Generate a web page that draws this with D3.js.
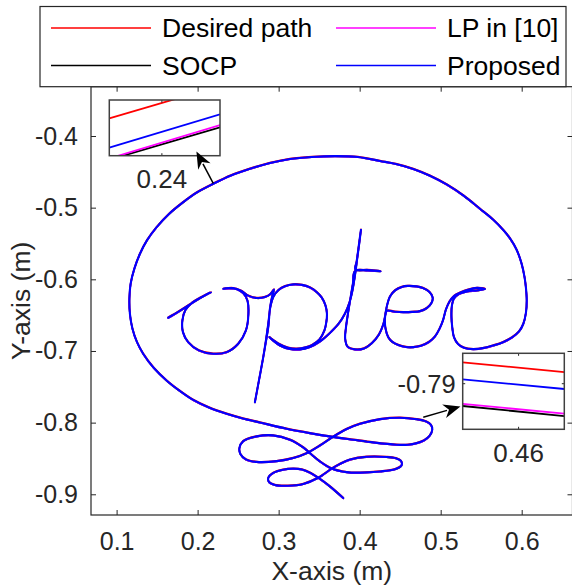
<!DOCTYPE html>
<html><head><meta charset="utf-8">
<script src="https://cdn.jsdelivr.net/npm/d3@7"></script>
<style>
body{margin:0;background:#fff}
svg{display:block;font-family:"Liberation Sans",Arial,Helvetica,sans-serif}
</style>
</head><body><svg id="chart" width="572" height="588"></svg>
<script>
// Reference trajectory: cursive "opter" enclosed by a loop with flourishes (metres)
const pathX = [
0.1637,0.1769,0.1905,0.2028,0.2164,0.2028,0.1930,0.1849,0.1812,0.1819,
0.1884,0.2016,0.2193,0.2358,0.2501,0.2596,0.2627,0.2615,0.2563,0.2481,
0.2386,0.2316,0.2436,0.2541,0.2625,0.2728,0.2831,0.2899,0.2942,0.2917,
0.2893,0.2872,0.2841,0.2810,0.2757,0.2707,0.2757,0.2810,0.2843,0.2874,
0.2899,0.2936,0.2998,0.3078,0.3180,0.3288,0.3386,0.3469,0.3531,0.3578,
0.3596,0.3588,0.3565,0.3504,0.3411,0.3346,0.3222,0.3115,0.3004,0.2884,
0.3016,0.3140,0.3263,0.3386,0.3510,0.3633,0.3738,0.3819,0.3874,0.3911,
0.3942,0.3970,0.3995,0.4016,0.3988,0.3963,0.3948,0.4102,0.4259,0.4102,
0.3942,0.3917,0.3886,0.3856,0.3831,0.3821,0.3849,0.3942,0.4053,0.4152,
0.4238,0.4291,0.4319,0.4337,0.4436,0.4538,0.4646,0.4744,0.4831,0.4889,
0.4901,0.4862,0.4781,0.4704,0.4596,0.4519,0.4436,0.4374,0.4333,0.4312,
0.4319,0.4353,0.4405,0.4477,0.4572,0.4662,0.4757,0.4856,0.4930,0.4985,
0.5028,0.5065,0.5109,0.5164,0.5238,0.5337,0.5448,0.5547,0.5448,0.5325,
0.5226,0.5164,0.5137,0.5133,0.5143,0.5164,0.5214,0.5288,0.5402,0.5535,
0.5649,0.5769,0.5880,0.5967,0.6020,0.6053,0.6062,0.6053,0.6035,0.5998,
0.5936,0.5856,0.5773,0.5646,0.5485,0.5288,0.5074,0.4868,0.4662,0.4448,
0.4251,0.3979,0.3695,0.3411,0.3140,0.2893,0.2646,0.2411,0.2193,0.1991,
0.1822,0.1646,0.1494,0.1374,0.1288,0.1220,0.1173,0.1158,0.1164,0.1195,
0.1251,0.1328,0.1460,0.1617,0.1781,0.1946,0.2140,0.2358,0.2559,0.2769,
0.3099,0.3386,0.3674,0.3921,0.4168,0.4457,0.4596,0.4704,0.4794,0.4862,
0.4896,0.4880,0.4819,0.4704,0.4498,0.4251,0.4004,0.3840,0.3674,0.3510,
0.3346,0.3180,0.2975,0.2728,0.2596,0.2528,0.2516,0.2563,0.2728,0.2933,
0.3140,0.3304,0.3399,0.3510,0.3654,0.3840,0.4004,0.4251,0.4436,0.4516,
0.4510,0.4448,0.4333,0.4086,0.3880,0.3757,0.3654,0.3489,0.3304,0.3115,
0.2954,0.2880,0.2874,0.2933,0.3053,0.3177,0.3288,0.3393,0.3489,0.3633,
0.3798];
const pathY = [
-0.6530,-0.6442,-0.6344,-0.6256,-0.6173,-0.6254,-0.6323,-0.6421,-0.6568,-0.6731,
-0.6871,-0.6986,-0.7032,-0.7010,-0.6893,-0.6707,-0.6474,-0.6289,-0.6187,-0.6128,
-0.6117,-0.6125,-0.6117,-0.6156,-0.6222,-0.6254,-0.6240,-0.6198,-0.6135,-0.6247,
-0.6400,-0.6661,-0.6875,-0.7080,-0.7405,-0.7708,-0.7405,-0.7080,-0.6847,-0.6596,
-0.6372,-0.6233,-0.6142,-0.6090,-0.6065,-0.6072,-0.6107,-0.6170,-0.6247,-0.6358,
-0.6474,-0.6596,-0.6707,-0.6833,-0.6912,-0.6940,-0.6963,-0.6949,-0.6896,-0.6801,
-0.6917,-0.6966,-0.6972,-0.6938,-0.6861,-0.6742,-0.6617,-0.6470,-0.6317,-0.6149,
-0.5940,-0.5703,-0.5493,-0.5302,-0.5535,-0.5744,-0.5856,-0.5863,-0.5880,-0.5870,
-0.5877,-0.6051,-0.6261,-0.6470,-0.6665,-0.6819,-0.6930,-0.6972,-0.6958,-0.6882,
-0.6763,-0.6624,-0.6484,-0.6432,-0.6446,-0.6452,-0.6449,-0.6438,-0.6393,-0.6317,
-0.6247,-0.6170,-0.6114,-0.6093,-0.6086,-0.6100,-0.6149,-0.6233,-0.6382,-0.6540,
-0.6679,-0.6801,-0.6868,-0.6910,-0.6938,-0.6940,-0.6921,-0.6868,-0.6791,-0.6686,
-0.6568,-0.6414,-0.6303,-0.6226,-0.6181,-0.6139,-0.6114,-0.6128,-0.6149,-0.6163,
-0.6198,-0.6261,-0.6372,-0.6522,-0.6665,-0.6801,-0.6896,-0.6949,-0.6968,-0.6951,
-0.6917,-0.6871,-0.6805,-0.6721,-0.6614,-0.6456,-0.6289,-0.6121,-0.5963,-0.5772,
-0.5577,-0.5423,-0.5305,-0.5158,-0.5009,-0.4830,-0.4670,-0.4548,-0.4453,-0.4384,
-0.4342,-0.4286,-0.4275,-0.4286,-0.4314,-0.4370,-0.4451,-0.4544,-0.4660,-0.4781,
-0.4917,-0.5082,-0.5266,-0.5451,-0.5637,-0.5842,-0.6056,-0.6261,-0.6474,-0.6679,
-0.6868,-0.7032,-0.7231,-0.7405,-0.7551,-0.7677,-0.7782,-0.7870,-0.7935,-0.7991,
-0.8079,-0.8140,-0.8193,-0.8232,-0.8270,-0.8302,-0.8302,-0.8280,-0.8242,-0.8180,
-0.8093,-0.8026,-0.7977,-0.7946,-0.7925,-0.7945,-0.8009,-0.8082,-0.8189,-0.8312,
-0.8419,-0.8487,-0.8531,-0.8542,-0.8507,-0.8431,-0.8347,-0.8252,-0.8186,-0.8172,
-0.8232,-0.8340,-0.8431,-0.8535,-0.8633,-0.8685,-0.8692,-0.8675,-0.8643,-0.8591,
-0.8528,-0.8491,-0.8473,-0.8470,-0.8510,-0.8570,-0.8637,-0.8763,-0.8849,-0.8874,
-0.8863,-0.8821,-0.8759,-0.8696,-0.8651,-0.8636,-0.8647,-0.8696,-0.8763,-0.8884,
-0.9047];

// Series (drawn in this order) and their vertical tracking deviation from the reference
const seriesNames  = ["Desired path", "SOCP", "LP in [10]", "Proposed"];
const seriesColors = ["#ff0000", "#000000", "#ff00ff", "#0000ff"];
const trackingOffsetY = [0, -0.0011, -0.0010, -0.0006];

// Legend order (two columns, filled row by row)
const legendOrder = [0, 2, 1, 3];

// Axes
const xLim = [0.0684, 0.6627];
const yLim = [-0.9289, -0.3312];
const xTicks = [0.1, 0.2, 0.3, 0.4, 0.5, 0.6];
const yTicks = [-0.9, -0.8, -0.7, -0.6, -0.5, -0.4];

// Zoomed view near x = 0.24 (segment end points at the view edges)
const inset1XLim = [0.2381, 0.2421];
const inset1YLim = [-0.4575, -0.4545];
const inset1XTicks = [0.24];
const inset1SegX = [0.2381, 0.2421];
const inset1Desired  = [-0.45549, -0.45374];
const inset1SOCP     = [-0.45772, -0.45597];
const inset1LP       = [-0.45765, -0.45585];
const inset1Proposed = [-0.45707, -0.45527];

// Zoomed view near x = 0.46
const inset2XLim = [0.4578, 0.4618];
const inset2YLim = [-0.7918, -0.7888];
const inset2XTicks = [0.46];
const inset2YTicks = [-0.79];
const inset2SegX = [0.4578, 0.4618];
const inset2Desired  = [-0.78916, -0.78954];
const inset2SOCP     = [-0.79088, -0.79128];
const inset2LP       = [-0.79080, -0.79118];
const inset2Proposed = [-0.78983, -0.79021];

// Arrow annotations: [tailX, tailY, headX, headY] in data units
const arrow1 = [0.2193, -0.4660, 0.1985, -0.4216];
const arrow2 = [0.4785, -0.7925, 0.5244, -0.7775];

// ---------------------------------------------------------------
const axisColor = "#262626";
const plot = {left: 91, right: 572.5, top: 86.7, bottom: 515};
const fmt = p => v => d3.format(p)(v).replace("\u2212", "-");

const svg = d3.select("#chart");
const x = d3.scaleLinear().domain(xLim).range([plot.left, plot.right]);
const y = d3.scaleLinear().domain(yLim).range([plot.bottom, plot.top]);

svg.append("defs").append("clipPath").attr("id", "plotClip")
  .append("rect").attr("x", plot.left).attr("y", plot.top)
  .attr("width", plot.right - plot.left).attr("height", plot.bottom - plot.top);

const pts = pathX.map((v, i) => [v, pathY[i]]);
const line = d3.line().x(d => x(d[0])).y(d => y(d[1])).curve(d3.curveCatmullRom.alpha(0.5));

const gLines = svg.append("g").attr("clip-path", "url(#plotClip)");
seriesNames.forEach((name, s) => {
  const last = s === seriesNames.length - 1;
  gLines.append("path")
    .datum(pts.map(p => [p[0], p[1] + trackingOffsetY[s]]))
    .attr("d", line)
    .attr("fill", "none")
    .attr("stroke", seriesColors[s])
    .attr("stroke-width", last ? 2.1 : 1.6)
    .attr("stroke-linejoin", "round")
    .attr("stroke-linecap", "round");
});

// Axes with inward ticks on all four sides
const tickLen = 5;
const fontTick = 25;
const gAx = svg.append("g");
function styleAxis(g) {
  g.select(".domain").remove();
  g.selectAll(".tick line").attr("stroke", axisColor).attr("stroke-width", 1);
  g.selectAll(".tick text").attr("fill", axisColor)
    .attr("font-size", fontTick).attr("font-family", "Liberation Sans, Arial, sans-serif");
}
gAx.append("g").attr("transform", `translate(0,${plot.bottom})`)
  .call(d3.axisBottom(x).tickValues(xTicks).tickSize(-tickLen).tickPadding(17).tickFormat(fmt(".1f")))
  .call(styleAxis);
gAx.append("g").attr("transform", `translate(0,${plot.top})`)
  .call(d3.axisTop(x).tickValues(xTicks).tickSize(-tickLen).tickFormat(""))
  .call(styleAxis);
gAx.append("g").attr("transform", `translate(${plot.left},0)`)
  .call(d3.axisLeft(y).tickValues(yTicks).tickSize(-tickLen).tickPadding(13).tickFormat(fmt(".1f")))
  .call(styleAxis);
gAx.append("g").attr("transform", `translate(${plot.right},0)`)
  .call(d3.axisRight(y).tickValues(yTicks).tickSize(-tickLen).tickFormat(""))
  .call(styleAxis);
gAx.append("rect")
  .attr("x", plot.left).attr("y", plot.top)
  .attr("width", plot.right - plot.left).attr("height", plot.bottom - plot.top)
  .attr("fill", "none").attr("stroke", axisColor).attr("stroke-width", 1.2);

// Axis titles
svg.append("text")
  .attr("x", (plot.left + plot.right) / 2).attr("y", 580)
  .attr("text-anchor", "middle").attr("font-size", 26.5).attr("fill", axisColor)
  .text("X-axis (m)");
svg.append("text")
  .attr("transform", `translate(30,${(plot.top + plot.bottom) / 2}) rotate(-90)`)
  .attr("text-anchor", "middle").attr("font-size", 26.5).attr("fill", axisColor)
  .text("Y-axis (m)");

// Zoomed insets
function drawInset(box, xl, yl, segX, segs, xt, yt) {
  const ix = d3.scaleLinear().domain(xl).range([box.left, box.left + box.w]);
  const iy = d3.scaleLinear().domain(yl).range([box.top + box.h, box.top]);
  const id = "clip" + Math.round(box.left);
  svg.append("clipPath").attr("id", id).append("rect")
    .attr("x", box.left).attr("y", box.top).attr("width", box.w).attr("height", box.h);
  const g = svg.append("g");
  g.append("rect").attr("x", box.left).attr("y", box.top).attr("width", box.w).attr("height", box.h)
    .attr("fill", "#fff");
  const gl = g.append("g").attr("clip-path", `url(#${id})`);
  segs.forEach((ys, s) => {
    gl.append("line")
      .attr("x1", ix(segX[0])).attr("y1", iy(ys[0]))
      .attr("x2", ix(segX[1])).attr("y2", iy(ys[1]))
      .attr("stroke", seriesColors[s]).attr("stroke-width", 1.8);
  });
  xt.forEach(t => {
    g.append("line").attr("x1", ix(t)).attr("x2", ix(t)).attr("y1", box.top).attr("y2", box.top + 2.5)
      .attr("stroke", axisColor);
    g.append("line").attr("x1", ix(t)).attr("x2", ix(t)).attr("y1", box.top + box.h).attr("y2", box.top + box.h - 2.5)
      .attr("stroke", axisColor);
    g.append("text").attr("x", ix(t)).attr("y", box.top + box.h + 32.5)
      .attr("text-anchor", "middle").attr("font-size", 26).attr("fill", axisColor)
      .text(fmt(".2f")(t));
  });
  yt.forEach(t => {
    g.append("line").attr("x1", box.left).attr("x2", box.left + 2.5).attr("y1", iy(t)).attr("y2", iy(t))
      .attr("stroke", axisColor);
    g.append("line").attr("x1", box.left + box.w).attr("x2", box.left + box.w - 2.5).attr("y1", iy(t)).attr("y2", iy(t))
      .attr("stroke", axisColor);
    g.append("text").attr("x", box.left - 7).attr("y", iy(t)).attr("dy", "0.35em")
      .attr("text-anchor", "end").attr("font-size", 25.5).attr("fill", axisColor)
      .text(fmt(".2f")(t));
  });
  g.append("rect").attr("x", box.left).attr("y", box.top).attr("width", box.w).attr("height", box.h)
    .attr("fill", "none").attr("stroke", "#404040").attr("stroke-width", 1.5);
}
drawInset({left: 109.3, top: 100, w: 110.7, h: 55.7}, inset1XLim, inset1YLim, inset1SegX,
  [inset1Desired, inset1SOCP, inset1LP, inset1Proposed], inset1XTicks, []);
drawInset({left: 462.7, top: 353.3, w: 101.6, h: 76}, inset2XLim, inset2YLim, inset2SegX,
  [inset2Desired, inset2SOCP, inset2LP, inset2Proposed], inset2XTicks, inset2YTicks);

// Arrows pointing from the trajectory to the zoomed views
function drawArrow(a) {
  const x0 = x(a[0]), y0 = y(a[1]), x1 = x(a[2]), y1 = y(a[3]);
  const ang = Math.atan2(y1 - y0, x1 - x0);
  const hl = 17, hw = 7;
  const c = Math.cos(ang), s = Math.sin(ang);
  const bx = x1 - hl * c, by = y1 - hl * s;
  svg.append("line").attr("x1", x0).attr("y1", y0).attr("x2", bx + 3 * c).attr("y2", by + 3 * s)
    .attr("stroke", "#000").attr("stroke-width", 1.5);
  const px = -s, py = c;
  svg.append("path")
    .attr("d", `M${x1},${y1}L${bx + hw * px},${by + hw * py}L${bx + 0.3 * hl * c},${by + 0.3 * hl * s}L${bx - hw * px},${by - hw * py}Z`)
    .attr("fill", "#000");
}
drawArrow(arrow1);
drawArrow(arrow2);

// Legend
const leg = svg.append("g");
leg.append("rect").attr("x", 40).attr("y", 6.5).attr("width", 526).attr("height", 80.2)
  .attr("fill", "#fff").attr("stroke", axisColor).attr("stroke-width", 1.2);
const colX = [51, 336], rowY = [28, 65.5];
legendOrder.forEach((s, k) => {
  const cx = colX[k % 2], cy = rowY[Math.floor(k / 2)];
  leg.append("line").attr("x1", cx).attr("x2", cx + 100).attr("y1", cy).attr("y2", cy)
    .attr("stroke", seriesColors[s]).attr("stroke-width", 1.5);
  leg.append("text").attr("x", cx + 111).attr("y", cy).attr("dy", "0.35em")
    .attr("font-size", 26.5).attr("fill", "#000").text(seriesNames[s]);
});
</script>
</body></html>
